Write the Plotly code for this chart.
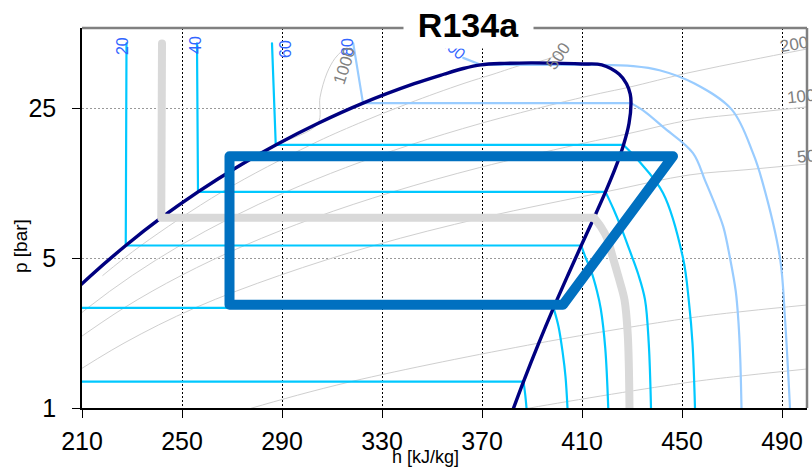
import math
import plotly.graph_objects as go

# ---------------- data (h in kJ/kg, p in bar) ----------------
dome_h = [186.7, 200.0, 213.6, 227.5, 241.7, 256.4, 271.6, 287.5, 304.3, 322.4, 342.9, 354.7, 362.5, 369.5,
          379.0, 389.6, 400.0, 410.0, 417.9, 424.9, 427.8, 429.3, 429.6, 428.8, 426.6, 423.4, 419.4, 414.8,
          409.7, 404.3, 398.6, 392.7, 386.6, 380.3]
dome_p = [2.006, 2.928, 4.146, 5.717, 7.702, 10.166, 13.179, 16.818, 21.168, 26.332, 32.442, 35.912, 38.2, 39.724,
          40.35, 40.59, 40.45, 40.1, 39.724, 35.912, 32.442, 29.0, 26.332, 21.168, 16.818, 13.179, 10.166, 7.702,
          5.717, 4.146, 2.928, 2.006, 1.327, 0.8436]

# isotherms (°C): liquid + two-phase part, then superheated-vapour part
iso_m20_h = [173.6, 386.6]
iso_m20_p = [1.327, 1.327]
iso_m20_vh = [386.6, 387.3, 387.8]
iso_m20_vp = [1.327, 1.15, 1.0]
iso_0_h = [200.0, 398.6]
iso_0_p = [2.928, 2.928]
iso_0_vh = [398.6, 400.6, 402.3, 403.4, 404.2]
iso_0_vp = [2.928, 2.4, 1.8, 1.4, 1.0]
iso_20_h = [227.8, 227.5, 409.7]
iso_20_p = [50.0, 5.717, 5.717]
iso_20_vh = [409.7, 411.5, 413.5, 416.0, 417.5, 419.3, 420.5]
iso_20_vp = [5.717, 5.0, 4.4, 3.5, 2.9, 1.9, 1.0]
iso_40_h = [256.0, 256.4, 419.4]
iso_40_p = [50.0, 10.166, 10.166]
iso_40_vh = [419.4, 422.5, 425.5, 429.0, 432.5, 435.2, 436.7, 437.6]
iso_40_vp = [10.166, 8.5, 7.0, 5.45, 4.2, 3.2, 2.0, 1.0]
iso_60_h = [286.0, 287.5, 426.6]
iso_60_p = [50.0, 16.818, 16.818]
iso_60_vh = [426.6, 432.4, 442.4, 450.4, 452.8, 454.2, 455.2]
iso_60_vp = [16.818, 14.3, 10.05, 5.0, 3.1, 2.0, 1.0]
iso_80_h = [318.5, 322.4, 429.6]
iso_80_p = [50.0, 26.332, 26.332]
iso_80_vh = [429.6, 435.2, 442.4, 454.4, 459.2, 463.0, 466.5, 469.2, 471.5, 472.6, 473.3, 473.8]
iso_80_vp = [26.332, 24.0, 20.4, 15.4, 11.5, 9.0, 7.0, 5.0, 3.5, 2.5, 1.7, 1.0]
iso_100_h = [362.5, 366.0, 369.5, 417.9]
iso_100_p = [42.8, 41.2, 39.724, 39.724]
iso_100_vh = [417.9, 430.4, 441.0, 455.0, 470.0, 478.4, 482.0, 489.2, 491.2, 493.2]
iso_100_vp = [39.724, 39.2, 37.5, 32.5, 24.5, 15.4, 11.5, 5.0, 2.6, 1.0]

# highlighted isotherm (30 °C)
iso_30_h = [242.0, 241.7, 414.8]
iso_30_p = [50.0, 7.702, 7.702]
iso_30_vh = [414.8, 417.5, 420.0, 422.4, 424.8, 427.0, 428.3, 429.0]
iso_30_vp = [7.702, 7.0, 6.2, 5.0, 4.0, 3.19, 2.2, 1.0]

# isochores (kg/m3)
rho_1000_h = [214.4, 228.3, 242.6, 257.5, 272.6, 288.1, 304.3, 305.2, 308.0, 311.2, 314.4]
rho_1000_p = [4.146, 5.717, 7.702, 10.166, 13.179, 16.818, 21.168, 28.0, 36.4, 42.6, 46.6]
rho_500_h = [218.3, 233.6, 266.0, 301.4, 320.5, 340.8, 362.4, 374.4, 386.2, 391.0, 396.0, 402.0]
rho_500_p = [4.146, 5.717, 10.166, 16.818, 21.168, 26.332, 32.442, 35.912, 39.724, 40.7, 42.2, 45.5]
rho_200_h = [195.5, 212.3, 230.1, 249.2, 269.6, 291.6, 315.4, 341.2, 369.4, 400.5, 417.5, 428.6, 453.2, 477.0, 500.0]
rho_200_p = [2.006, 2.928, 4.146, 5.717, 7.702, 10.166, 13.179, 16.818, 21.168, 26.332, 29.3, 31.2, 36.6, 41.7, 47.1]
rho_100_h = [206.0, 226.8, 249.7, 275.0, 303.1, 334.3, 368.9, 407.5, 427.8, 453.2, 476.0, 500.0]
rho_100_p = [2.006, 2.928, 4.146, 5.717, 7.702, 10.166, 13.179, 16.818, 18.9, 22.0, 23.6, 25.3]
rho_50_h = [201.6, 226.8, 255.2, 289.0, 326.8, 370.2, 419.4, 453.2, 476.0, 500.0]
rho_50_p = [1.327, 2.006, 2.928, 4.146, 5.717, 7.702, 10.166, 12.2, 12.9, 13.7]
rho_10_h = [257.7, 278.0, 317.6, 392.7, 453.2, 476.0, 500.0]
rho_10_p = [0.8436, 1.0, 1.327, 2.006, 2.63, 2.83, 3.02]
rho_5_h = [355.0, 389.0, 453.2, 476.0, 500.0]
rho_5_p = [0.8436, 1.0, 1.32, 1.42, 1.52]

# refrigeration cycle
cycle_h = [269.0, 446.4, 402.4, 269.0, 269.0]
cycle_p = [14.9, 14.9, 3.03, 3.03, 14.9]

x_ticks = [210, 250, 290, 330, 370, 410, 450, 490]
y_ticks = [1, 5, 25]

# label positions: (text, h, p, angle)
iso_labels = [("20", 226.0, 48.6, -90), ("40", 255.6, 49.2, -90), ("60", 291.6, 47.1, -90),
              ("80", 316.0, 48.1, -90), ("100", 358.4, 48.1, 40)]
rho_labels = [("1000", 315.2, 39.3, -72), ("500", 400.4, 43.6, -55), ("200", 494.8, 49.2, -10),
              ("100", 497.4, 28.4, -6), ("50", 499.8, 14.8, -5), ("10", 501.0, 3.26, -4), ("5", 501.2, 1.62, -3)]

# ---------------- figure ----------------
fig = go.Figure()


def add_line(hh, pp, color, width, shape="linear"):
    fig.add_trace(go.Scatter(x=hh, y=pp, mode="lines",
                             line=dict(color=color, width=width, shape=shape,
                                       smoothing=1.0 if shape == "spline" else None),
                             hoverinfo="skip", showlegend=False))


GRAY_THIN = "#cfcfcf"
for hh, pp in [(rho_1000_h, rho_1000_p), (rho_500_h, rho_500_p), (rho_200_h, rho_200_p),
               (rho_100_h, rho_100_p), (rho_50_h, rho_50_p), (rho_10_h, rho_10_p), (rho_5_h, rho_5_p)]:
    add_line(hh, pp, GRAY_THIN, 1, "spline")

CYAN = "#00c8ff"
LBLUE = "#99ccff"
for lh, lp, vh, vp, col in [(iso_m20_h, iso_m20_p, iso_m20_vh, iso_m20_vp, CYAN),
                            (iso_0_h, iso_0_p, iso_0_vh, iso_0_vp, CYAN),
                            (iso_20_h, iso_20_p, iso_20_vh, iso_20_vp, CYAN),
                            (iso_40_h, iso_40_p, iso_40_vh, iso_40_vp, CYAN),
                            (iso_60_h, iso_60_p, iso_60_vh, iso_60_vp, CYAN),
                            (iso_80_h, iso_80_p, iso_80_vh, iso_80_vp, LBLUE),
                            (iso_100_h, iso_100_p, iso_100_vh, iso_100_vp, LBLUE)]:
    add_line(lh, lp, col, 2.2)
    add_line(vh, vp, col, 2.2, "spline")

add_line(dome_h, dome_p, "#000080", 3.4, "spline")

add_line(iso_30_h, iso_30_p, "#d9d9d9", 8)
add_line(iso_30_vh, iso_30_vp, "#d9d9d9", 8, "spline")

add_line(cycle_h, cycle_p, "#0070c0", 10)

annotations = []
for txt, hx, py, ang in iso_labels:
    annotations.append(dict(x=hx, y=math.log10(py), xref="x", yref="y", text=txt, showarrow=False,
                            textangle=ang, font=dict(size=16, color="#3366ff")))
for txt, hx, py, ang in rho_labels:
    annotations.append(dict(x=hx, y=math.log10(py), xref="x", yref="y", text=txt, showarrow=False,
                            textangle=ang, font=dict(size=17, color="#808080")))

annotations.append(dict(x=(425 - 82) / 725, y=(408 - 457) / 380, xref="paper", yref="paper",
                        xanchor="center", yanchor="middle",
                        text="h [kJ/kg]", showarrow=False, font=dict(size=18, color="black")))
annotations.append(dict(x=(20 - 82) / 725, y=(408 - 246) / 380, xref="paper", yref="paper",
                        xanchor="center", yanchor="middle",
                        text="p [bar]", showarrow=False, textangle=-90, font=dict(size=19, color="black")))
annotations.append(dict(x=(468 - 82) / 725, y=(408 - 25) / 380, xref="paper", yref="paper",
                        xanchor="center", yanchor="middle",
                        text="<b>R134a</b>", showarrow=False, bgcolor="white", width=127, height=44,
                        font=dict(size=34, color="black")))

shapes = [
    dict(type="line", xref="paper", yref="paper", x0=0, x1=1, y0=1, y1=1,
         line=dict(color="#808080", width=2.5), layer="above"),
    dict(type="line", xref="paper", yref="paper", x0=1, x1=1, y0=0, y1=1,
         line=dict(color="#808080", width=2.5), layer="above"),
]

fig.update_layout(
    width=812, height=469,
    margin=dict(l=82, r=5, t=28, b=61),
    paper_bgcolor="white", plot_bgcolor="white",
    font=dict(family="Liberation Sans, Arial, sans-serif", color="black"),
    showlegend=False,
    annotations=annotations,
    shapes=shapes,
    xaxis=dict(range=[210, 500], tickvals=x_ticks, ticktext=[str(v) for v in x_ticks],
               showgrid=True, gridcolor="black", gridwidth=1, griddash="2px,2px",
               showline=True, linecolor="black", linewidth=1.5,
               ticks="outside", ticklen=8, tickcolor="black", tickwidth=1.2,
               tickfont=dict(size=25), zeroline=False, ticklabelstandoff=2),
    yaxis=dict(type="log", range=[0, 380 / 214.6], tickvals=y_ticks, ticktext=[str(v) for v in y_ticks],
               showgrid=True, gridcolor="#999999", gridwidth=1, griddash="2px,2px",
               showline=True, linecolor="black", linewidth=1.5,
               ticks="outside", ticklen=8, tickcolor="black", tickwidth=1.2,
               tickfont=dict(size=25), zeroline=False, ticklabelstandoff=11),
)

post = """
var gd = document.getElementById('{plot_id}');
function roundLines(){
  document.querySelectorAll('.scatterlayer .js-line').forEach(function(p){
    p.style.strokeLinejoin = 'round'; p.style.strokeLinecap = 'round';
  });
}
roundLines();
setTimeout(roundLines, 0);
setTimeout(roundLines, 50);
if (gd && gd.on) { gd.on('plotly_afterplot', roundLines); }
"""

fig.write_html("out.html", post_script=post)
